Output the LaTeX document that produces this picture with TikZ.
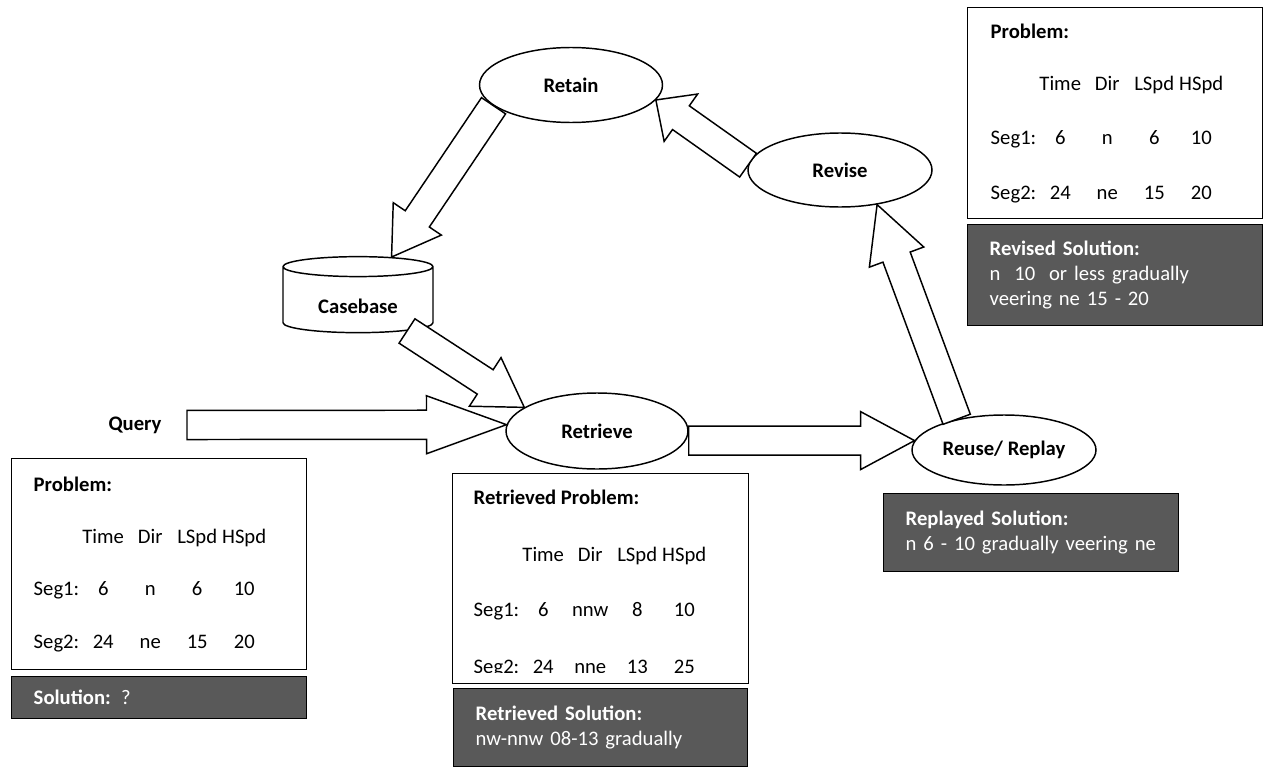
\documentclass[tikz,border=0pt]{standalone}
\usepackage{fontspec}
\setmainfont{Carlito}
\usetikzlibrary{shapes.geometric,calc}

\definecolor{solgray}{HTML}{595959}

\newcommand{\shafthalf}{10.9pt}
\newcommand{\headhalf}{21.75pt}
% tail, tip, head length
\newcommand{\fatarrow}[3]{%
  \draw[fatarr] ($(#1)!\shafthalf!90:(#2)$)
    -- ($(#2)!#3!(#1)!\shafthalf!90:(#2)$)
    -- ($(#2)!#3!(#1)!\headhalf!90:(#2)$)
    -- (#2)
    -- ($(#2)!#3!(#1)!\headhalf!-90:(#2)$)
    -- ($(#2)!#3!(#1)!\shafthalf!-90:(#2)$)
    -- ($(#1)!\shafthalf!-90:(#2)$) -- cycle;}
\newcommand{\segrow}[5]{\makebox[34.5pt][l]{#1}\makebox[35.25pt]{#2}\makebox[35.25pt]{#3}\makebox[35.25pt]{#4}\makebox[35.25pt]{#5}}

\begin{document}
\fontsize{15.5}{18.75}\selectfont
\begin{tikzpicture}[
  x=0.75pt, y=-0.75pt,
  line width=1.1pt,
  stage/.style={ellipse, draw, fill=white, font=\bfseries, inner sep=0pt},
  store/.style={cylinder, shape border rotate=90, aspect=0.25, draw, fill=white, font=\bfseries, inner sep=0pt},
  probbox/.style={rectangle, draw, minimum width=221.25pt, inner sep=0pt, anchor=north west},
  solbox/.style={rectangle, draw, fill=solgray, text=white, align=left, inner xsep=16.5pt, inner ysep=0pt, text width=188.25pt, anchor=north west},
  rowtext/.style={anchor=base west, inner sep=0pt},
  fatarr/.style={draw, fill=white, line join=miter}
]
\useasboundingbox (0,0) rectangle (1263,767);

% cycle stages
\node[stage, minimum width=137.25pt, minimum height=56.25pt] (retain) at (571,85) {Retain};
\node[stage, minimum width=138pt, minimum height=55.5pt] (revise) at (840,170) {Revise};
\node[stage, minimum width=136.5pt, minimum height=57pt] (retrieve) at (597,431) {Retrieve};
\node[stage, minimum width=138pt, minimum height=52.5pt] (reuse) at (1004,450) {Reuse/ Replay};
\node[store, minimum width=112.5pt, minimum height=57pt] (casebase) at (358,300) {\raisebox{-5pt}[\height][\depth]{Casebase}};
\node[font=\bfseries] (query) at (135,425) {Query};

\coordinate (qtail) at (187,425);
\coordinate (rtail) at (retrieve.east |- reuse.174);
\coordinate (cbout) at ($(casebase.center)+(49,31)$);

\fatarrow{qtail}{retrieve.176}{60pt}
\fatarrow{rtail}{reuse.174}{40.5pt}
\fatarrow{cbout}{retrieve.162}{35pt}
\fatarrow{retain.195}{casebase.52}{34.5pt}
\fatarrow{revise.177}{retain.-10}{23pt}
\fatarrow{reuse.147}{revise.-43}{42pt}

% query problem
\node[probbox, minimum height=158.25pt] (probq) at (11,458) {};
\node[rowtext, font=\bfseries] (q-title) at (33,491) {Problem:};
\node[rowtext] (q-head) at (33,543) {\segrow{}{Time}{Dir}{LSpd}{HSpd}};
\node[rowtext] (q-seg1) at (33,595) {\segrow{Seg1:}{6}{n}{6}{10}};
\node[rowtext] (q-seg2) at (33,648) {\segrow{Seg2:}{24}{ne}{15}{20}};
\node[solbox, minimum height=31.5pt] (solq) at (11,676) {\textbf{Solution:} ?};

% retrieved case
\node[probbox, minimum width=222pt, minimum height=157.5pt] (probr) at (452,473) {};
\node[rowtext, font=\bfseries] (r-title) at (473,504) {Retrieved Problem:};
\node[rowtext] (r-head) at (473,561) {\segrow{}{Time}{Dir}{LSpd}{HSpd}};
\node[rowtext] (r-seg1) at (473,616) {\segrow{Seg1:}{6}{nnw}{8}{10}};
\begin{scope}
  \clip (452,473) rectangle (748,672);
  \node[rowtext] (r-seg2) at (473,673) {\segrow{Seg2:}{24}{nne}{13}{25}};
\end{scope}
\node[solbox, text width=187.5pt, minimum height=58.5pt] (solr) at (453,688) {\textbf{Retrieved Solution:}\\nw-nnw 08-13 gradually};

% replayed
\node[solbox, minimum height=58.5pt] (solp) at (883,493) {\textbf{Replayed Solution:}\\n 6 - 10 gradually veering ne};

% revised case
\node[probbox, minimum height=158.25pt] (probv) at (967,7) {};
\node[rowtext, font=\bfseries] (v-title) at (990,39) {Problem:};
\node[rowtext] (v-head) at (990,90) {\segrow{}{Time}{Dir}{LSpd}{HSpd}};
\node[rowtext] (v-seg1) at (990,144) {\segrow{Seg1:}{6}{n}{6}{10}};
\node[rowtext] (v-seg2) at (990,199) {\segrow{Seg2:}{24}{ne}{15}{20}};
\node[solbox, minimum height=75.75pt] (solv) at (967,224) {\textbf{Revised Solution:}\\n\ \ 10\ \ or less gradually\\veering ne 15 - 20};
\end{tikzpicture}
\end{document}
